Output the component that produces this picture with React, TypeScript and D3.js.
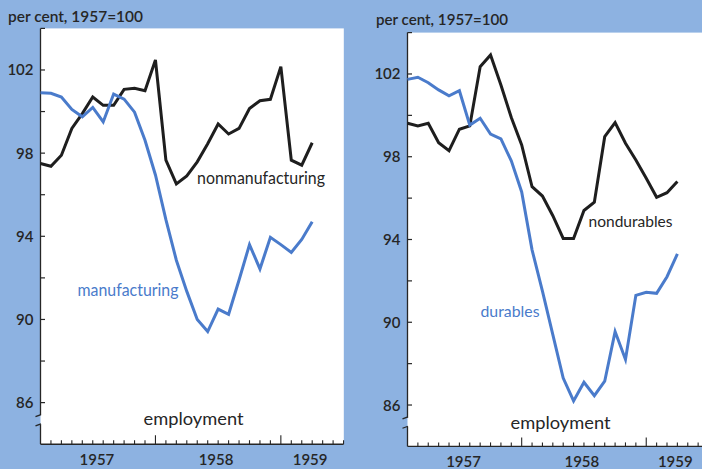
import React from 'react';
import * as d3 from 'd3';

const months = [
  '1957-01', '1957-02', '1957-03', '1957-04', '1957-05', '1957-06', '1957-07', '1957-08', '1957-09',
  '1957-10', '1957-11', '1957-12', '1958-01', '1958-02', '1958-03', '1958-04', '1958-05', '1958-06',
  '1958-07', '1958-08', '1958-09', '1958-10', '1958-11', '1958-12', '1959-01', '1959-02', '1959-03',
];

const nonmanufacturing = [97.5, 97.37, 97.9, 99.19, 99.9, 100.7, 100.3, 100.3, 101.07, 101.12, 101.0, 102.48, 97.66, 96.52, 96.9, 97.58, 98.45, 99.4, 98.92, 99.19, 100.15, 100.52, 100.59, 102.16, 97.66, 97.42, 98.5];
const manufacturing = [100.9, 100.88, 100.7, 100.1, 99.75, 100.2, 99.5, 100.84, 100.6, 99.97, 98.62, 96.95, 94.8, 92.85, 91.35, 90.0, 89.42, 90.5, 90.25, 91.9, 93.6, 92.43, 93.95, 93.6, 93.22, 93.85, 94.7];
const nondurables = [99.62, 99.49, 99.62, 98.68, 98.29, 99.33, 99.49, 102.35, 102.92, 101.47, 99.9, 98.57, 96.55, 96.1, 95.15, 94.05, 94.05, 95.4, 95.8, 98.97, 99.65, 98.65, 97.84, 96.96, 96.04, 96.26, 96.8];
const durables = [101.74, 101.84, 101.58, 101.23, 100.94, 101.19, 99.53, 99.86, 99.1, 98.86, 97.8, 96.3, 93.5, 91.5, 89.4, 87.3, 86.2, 87.1, 86.45, 87.15, 89.55, 88.2, 91.3, 91.45, 91.4, 92.2, 93.3];

const yLabeledTicks = [86, 90, 94, 98, 102];
const yMinorTicks = [88, 92, 96, 100, 104];
const yDomain = [84, 104];
const axisBreak = [84.95, 85.4];
const monthTicks = d3.range(1, 30);
const yearStartTicks = [11, 23];
const yearLabels = ['1957', '1958', '1959'];
const yearLabelAt = [5.4, 16.8, 25.8];
const unitLabel = 'per cent, 1957=100';

const BG = '#8db2e1';
const BLUE = '#4a7bcb';
const BLACK = '#1e1e1e';
const INK = '#262626';
const FONT = 'Lato, "Open Sans", sans-serif';

type Lbl = { text: string; x: number; y: number; len: number; size: number; color: string };

type PanelProps = {
  xRange: [number, number];
  yRange: [number, number];
  rightEdge: number;
  blackSeries: number[];
  blueSeries: number[];
  labels: Lbl[];
  unit: { x: number; y: number; len: number };
  yearBaseline: number;
};

function Panel({ xRange, yRange, rightEdge, blackSeries, blueSeries, labels, unit, yearBaseline }: PanelProps) {
  const x = d3.scaleLinear().domain([0, 29]).range(xRange);
  const y = d3.scaleLinear().domain(yDomain).range(yRange);
  const line = d3
    .line<number>()
    .x((_, i) => x(i))
    .y((d) => y(d));
  const ax = x(0);
  const top = y(yDomain[1]);
  const bottom = y(yDomain[0]);
  const bLow = y(axisBreak[0]);
  const bHigh = y(axisBreak[1]);
  return (
    <g>
      <rect x={ax} y={top} width={rightEdge - ax} height={bottom - top} fill="#ffffff" />
      {/* y axis with break */}
      <line x1={ax} x2={ax} y1={top} y2={bHigh} stroke={INK} strokeWidth={1.3} />
      <line x1={ax} x2={ax} y1={bLow} y2={bottom} stroke={INK} strokeWidth={1.3} />
      <line x1={ax - 5} x2={ax + 0.5} y1={bHigh + 1.5} y2={bHigh - 0.5} stroke={INK} strokeWidth={1.3} />
      <line x1={ax - 5} x2={ax + 0.5} y1={bLow + 1.5} y2={bLow - 0.5} stroke={INK} strokeWidth={1.3} />
      {yLabeledTicks.concat(yMinorTicks).map((t) => (
        <line key={'yt' + t} x1={ax} x2={ax + 4.5} y1={y(t)} y2={y(t)} stroke={INK} strokeWidth={1.2} />
      ))}
      {yLabeledTicks.map((t) => (
        <text
          key={'yl' + t}
          x={ax - 7}
          y={y(t) + 5.5}
          textAnchor="end"
          fontFamily={FONT}
          fontSize={15}
          fontWeight={600}
          fill={INK}
        >
          {t}
        </text>
      ))}
      {/* x axis */}
      <line x1={ax} x2={x(29)} y1={bottom} y2={bottom} stroke={INK} strokeWidth={1.4} />
      {monthTicks.map((m) => (
        <line
          key={'xt' + m}
          x1={x(m)}
          x2={x(m)}
          y1={bottom}
          y2={bottom - (yearStartTicks.includes(m) ? 9 : 4)}
          stroke={INK}
          strokeWidth={1.1}
        />
      ))}
      {yearLabels.map((yr, i) => (
        <text
          key={yr}
          x={x(yearLabelAt[i])}
          y={yearBaseline}
          textAnchor="middle"
          fontFamily={FONT}
          fontSize={15}
          fontWeight={600}
          fill={INK}
        >
          {yr}
        </text>
      ))}
      <path d={line(blackSeries) || ''} fill="none" stroke={BLACK} strokeWidth={3} strokeLinejoin="miter" />
      <path d={line(blueSeries) || ''} fill="none" stroke={BLUE} strokeWidth={3} strokeLinejoin="miter" />
      {labels.map((l) => (
        <text
          key={l.text + l.x}
          x={l.x}
          y={l.y}
          fontFamily={FONT}
          fontSize={l.size}
          fill={l.color}
          textLength={l.len}
          lengthAdjust="spacingAndGlyphs"
        >
          {l.text}
        </text>
      ))}
      <text
        x={unit.x}
        y={unit.y}
        fontFamily={FONT}
        fontSize={15}
        fontWeight={600}
        fill={INK}
        textLength={unit.len}
        lengthAdjust="spacingAndGlyphs"
      >
        {unitLabel}
      </text>
    </g>
  );
}

export default function App() {
  return (
    <svg
      width={702}
      height={469}
      viewBox="0 0 702 469"
      style={{ position: 'absolute', left: 0, top: 0, display: 'block' }}
    >
      <rect x={0} y={0} width={702} height={469} fill={BG} />
      <Panel
        xRange={[40.5, 40.5 + 29 * 10.45]}
        yRange={[444.2, 28.4]}
        rightEdge={343.8}
        blackSeries={nonmanufacturing}
        blueSeries={manufacturing}
        unit={{ x: 8, y: 21.5, len: 135 }}
        yearBaseline={464.5}
        labels={[
          { text: 'nonmanufacturing', x: 197, y: 183.5, len: 128, size: 17, color: INK },
          { text: 'manufacturing', x: 77.5, y: 295.5, len: 101, size: 17, color: BLUE },
          { text: 'employment', x: 143.5, y: 424.5, len: 100, size: 18, color: INK },
        ]}
      />
      <Panel
        xRange={[407.5, 407.5 + 29 * 10.38]}
        yRange={[446.4, 32.6]}
        rightEdge={702}
        blackSeries={nondurables}
        blueSeries={durables}
        unit={{ x: 376, y: 25, len: 132 }}
        yearBaseline={467}
        labels={[
          { text: 'nondurables', x: 588.5, y: 227, len: 84, size: 16, color: INK },
          { text: 'durables', x: 480.5, y: 316.5, len: 59, size: 16, color: BLUE },
          { text: 'employment', x: 510.5, y: 429, len: 100, size: 18, color: INK },
        ]}
      />
    </svg>
  );
}
